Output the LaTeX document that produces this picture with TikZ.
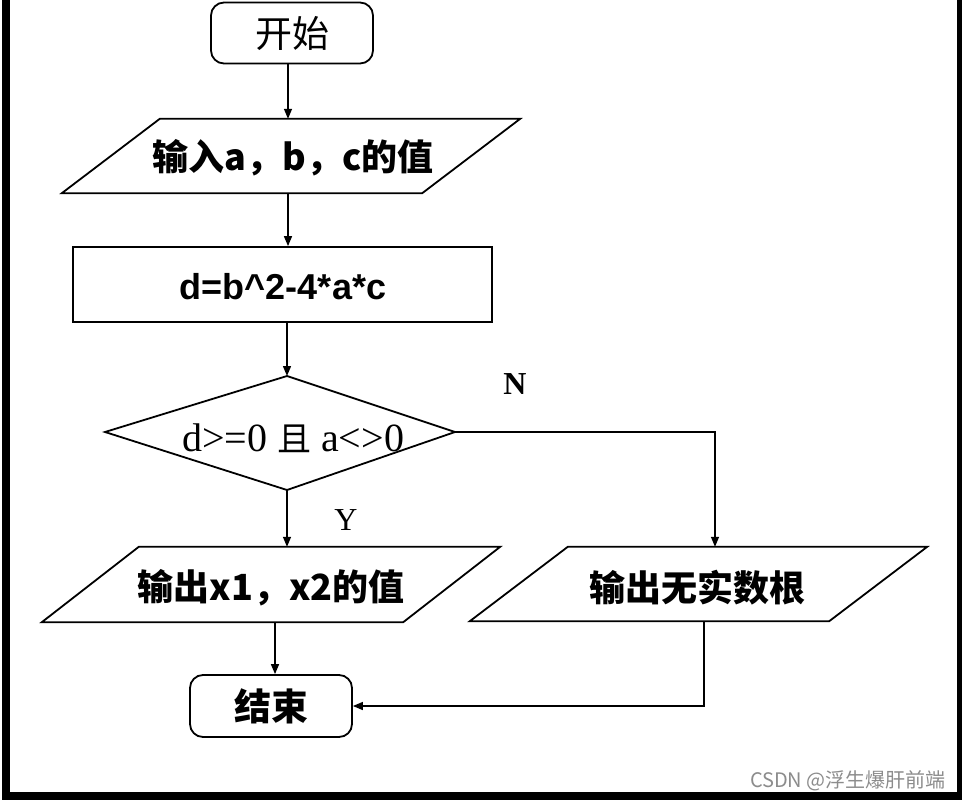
\documentclass[tikz,border=0pt]{standalone}
\usepackage{fontspec}
\setmainfont{Liberation Serif}
\setsansfont{Liberation Sans}
\newfontfamily\cjk{Noto Sans CJK SC}
\usetikzlibrary{arrows.meta,calc}
\tikzset{
  shp/.style={draw=black, line width=1.8pt},
  arr/.style={draw=black, line width=1.4pt, -{Triangle[length=10pt,width=8pt]}},
  ln/.style={draw=black, line width=1.4pt},
  boxtxt/.style={font=\cjk\bfseries\fontsize{36}{36}\selectfont, inner sep=0pt},
  term/.style={shp, rounded corners=13pt, minimum width=162pt, minimum height=61pt, inner sep=0pt},
  iobox/.style={inner sep=0pt, minimum height=74pt},
  yn/.style={inner sep=0pt, font=\fontsize{32}{32}\selectfont}
}
\newcommand\drawpara[2]{\draw[shp] (#1.south west) -- ($(#1.south east)+(-#2,0)$) -- (#1.north east) -- ($(#1.north west)+(#2,0)$) -- cycle;}
\begin{document}
\begin{tikzpicture}[x=1pt,y=-1pt]
\useasboundingbox (0,0) rectangle (962,801);
\fill[white] (0,0) rectangle (962,801);
% outer frame
\fill[black] (2,0) rectangle (10,800);
\fill[black] (2,792) rectangle (962,800);
\fill[black] (957,0) rectangle (962,800);

% nodes
\node[term] (start) at (292,33) {\cjk\fontsize{37}{37}\selectfont 开始};

\node[iobox, minimum width=458pt] (in) at (291,156) {};
\drawpara{in}{98}
\node[boxtxt] (intxt) at (293,158) {输入a，b，c的值};

\node[shp, minimum width=419pt, minimum height=75pt, inner sep=0pt] (calc) at (282.5,284.5) {};
\node[inner sep=0pt, font=\sffamily\bfseries\fontsize{36}{36}\selectfont] (calctxt) at (283,287) {d=b\textasciicircum 2-4*a*c};

\coordinate (dT) at (287,376);
\coordinate (dR) at (455,432);
\coordinate (dB) at (287,490);
\coordinate (dL) at (105,432);
\draw[shp] (dT) -- (dR) -- (dB) -- (dL) -- cycle;
\node[inner sep=0pt, font=\fontsize{40}{40}\selectfont] (dec) at (293,438) {d>=0 {\cjk\fontsize{34}{34}\selectfont 且} a<>0};

\node[iobox, minimum width=458pt, minimum height=75pt] (out1) at (271,584.5) {};
\drawpara{out1}{97}
\node[boxtxt] (out1txt) at (271,588) {输出x1，x2的值};

\node[iobox, minimum width=457pt] (out2) at (698.5,584) {};
\drawpara{out2}{98}
\node[boxtxt] (out2txt) at (697,588) {输出无实数根};

\node[term, minimum height=62pt] (end) at (271,706) {\cjk\bfseries\fontsize{37}{37}\selectfont 结束};

% connectors
\coordinate (colA) at (288,0);
\coordinate (colB) at (275,0);
\draw[arr] (start.south -| colA) -- (in.north -| colA);
\draw[arr] (in.south -| colA) -- (calc.north -| colA);
\draw[arr] (calc.south -| dT) -- (dT);
\draw[arr] (dB) -- (out1.north -| dB);
\draw[arr] (dR) -| ($(out2.north)+(16.5,0)$);
\draw[arr] (out1.south -| colB) -- (end.north -| colB);
\draw[arr] ($(out2.south)+(5.5,0)$) |- (end.east);

% labels
\node[yn, font=\bfseries\fontsize{32}{32}\selectfont] (nlab) at (515,384) {N};
\node[yn] (ylab) at (346,520) {Y};

% watermark
\node[inner sep=0pt, anchor=east, text=black!45, font=\cjk\fontsize{20}{20}\selectfont] (wm) at (946,781) {CSDN @浮生爆肝前端};
\end{tikzpicture}
\end{document}
